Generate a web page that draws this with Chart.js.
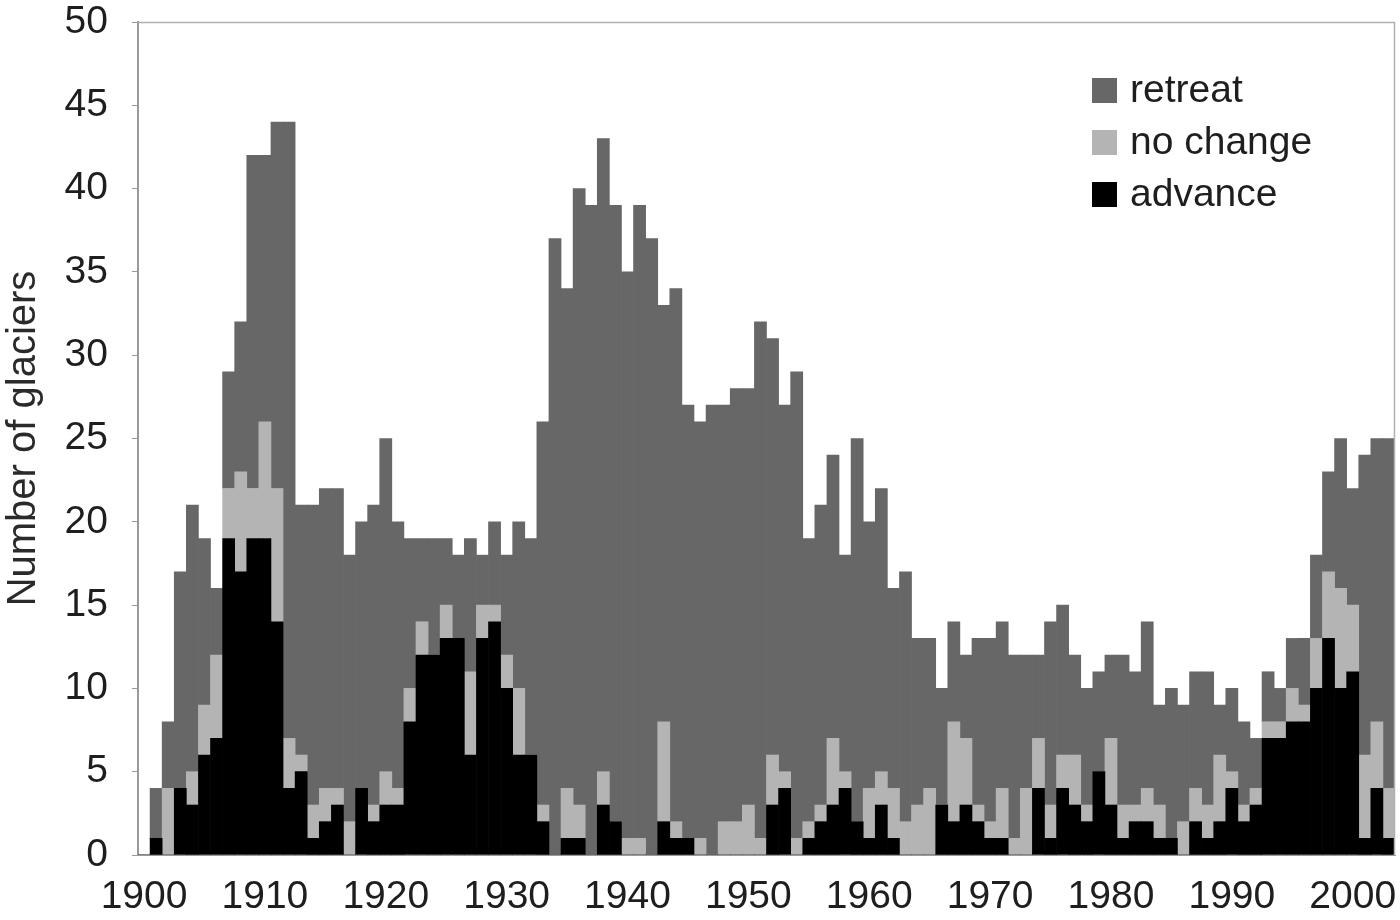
<!DOCTYPE html>
<html>
<head>
<meta charset="utf-8">
<script src="https://cdn.jsdelivr.net/npm/chart.js@4.4.1/dist/chart.umd.min.js"></script>
<style>
  html, body { margin: 0; padding: 0; background: #fff; }
  #wrap { width: 1400px; height: 920px; }
</style>
</head>
<body>
<div id="wrap"><canvas id="chart" width="1400" height="920"></canvas></div>
<script>
// years 1900 - 2003
const years = [
  1900, 1901, 1902, 1903, 1904, 1905, 1906, 1907, 1908, 1909,
  1910, 1911, 1912, 1913, 1914, 1915, 1916, 1917, 1918, 1919,
  1920, 1921, 1922, 1923, 1924, 1925, 1926, 1927, 1928, 1929,
  1930, 1931, 1932, 1933, 1934, 1935, 1936, 1937, 1938, 1939,
  1940, 1941, 1942, 1943, 1944, 1945, 1946, 1947, 1948, 1949,
  1950, 1951, 1952, 1953, 1954, 1955, 1956, 1957, 1958, 1959,
  1960, 1961, 1962, 1963, 1964, 1965, 1966, 1967, 1968, 1969,
  1970, 1971, 1972, 1973, 1974, 1975, 1976, 1977, 1978, 1979,
  1980, 1981, 1982, 1983, 1984, 1985, 1986, 1987, 1988, 1989,
  1990, 1991, 1992, 1993, 1994, 1995, 1996, 1997, 1998, 1999,
  2000, 2001, 2002, 2003
];

const advance = [
  0, 1, 0, 4, 3, 6, 7, 19, 17, 19,
  19, 14, 4, 5, 1, 2, 3, 0, 4, 2,
  3, 3, 8, 12, 12, 13, 13, 6, 13, 14,
  10, 6, 6, 2, 0, 1, 1, 0, 3, 2,
  0, 0, 0, 2, 1, 1, 0, 0, 0, 0,
  0, 0, 3, 4, 0, 1, 2, 3, 4, 2,
  1, 3, 1, 0, 0, 0, 3, 2, 3, 2,
  1, 1, 0, 0, 4, 1, 4, 3, 2, 5,
  3, 1, 2, 2, 1, 1, 0, 2, 1, 2,
  4, 2, 3, 7, 7, 8, 8, 10, 13, 10,
  11, 1, 4, 1
];

const noChange = [
  0, 0, 4, 0, 2, 3, 5, 3, 6, 3,
  7, 8, 3, 1, 2, 2, 1, 2, 0, 1,
  2, 1, 2, 2, 0, 2, 0, 5, 2, 1,
  2, 4, 0, 1, 0, 3, 2, 0, 2, 0,
  1, 1, 0, 6, 1, 0, 1, 0, 2, 2,
  3, 1, 3, 1, 1, 1, 1, 4, 1, 0,
  3, 2, 3, 2, 3, 4, 0, 6, 4, 1,
  1, 3, 1, 4, 3, 2, 2, 3, 1, 0,
  4, 2, 1, 2, 2, 0, 2, 2, 2, 4,
  1, 1, 1, 1, 1, 2, 1, 3, 4, 6,
  4, 5, 4, 3
];

const retreat = [
  0, 3, 4, 13, 16, 10, 4, 7, 9, 20,
  16, 22, 37, 15, 18, 18, 18, 16, 16, 18,
  20, 16, 9, 5, 7, 4, 5, 8, 3, 5,
  6, 10, 13, 23, 37, 30, 37, 39, 38, 37,
  34, 38, 37, 25, 32, 26, 25, 27, 25, 26,
  25, 31, 25, 22, 28, 17, 18, 17, 13, 23,
  16, 17, 12, 15, 10, 9, 7, 6, 5, 10,
  11, 10, 11, 8, 5, 11, 9, 6, 7, 6,
  5, 9, 8, 10, 6, 9, 7, 7, 8, 3,
  5, 5, 3, 3, 2, 3, 4, 5, 6, 9,
  7, 18, 17, 21
];

const xTickLabels = ['1900', '1910', '1920', '1930', '1940', '1950', '1960', '1970', '1980', '1990', '2000'];
const yTicks = [0, 5, 10, 15, 20, 25, 30, 35, 40, 45, 50];

const FONT = "'Liberation Sans', Arial, sans-serif";

// box around plot area + legend inside it
const frame = {
  id: 'frame',
  afterDraw(chart) {
    const { ctx, chartArea: a } = chart;
    ctx.save();
    ctx.strokeStyle = '#b0b0b0';
    ctx.lineWidth = 1.5;
    ctx.beginPath();
    ctx.moveTo(a.left, a.top + 0.5);
    ctx.lineTo(a.right - 0.5, a.top + 0.5);
    ctx.lineTo(a.right - 0.5, a.bottom);
    ctx.stroke();

    // legend, top item = top of stack
    const items = chart.data.datasets.slice().reverse();
    ctx.font = '39px ' + FONT;
    ctx.textBaseline = 'middle';
    items.forEach((ds, i) => {
      const cy = 90 + i * 52;
      ctx.fillStyle = ds.backgroundColor;
      ctx.fillRect(1092, cy - 12, 25, 25);
      ctx.fillStyle = '#1e1e1e';
      ctx.fillText(ds.label, 1130, cy + 1);
    });
    ctx.restore();
  }
};

new Chart(document.getElementById('chart'), {
  type: 'bar',
  data: {
    labels: years,
    datasets: [
      { label: 'advance', data: advance, backgroundColor: '#000000' },
      { label: 'no change', data: noChange, backgroundColor: '#b4b4b4' },
      { label: 'retreat', data: retreat, backgroundColor: '#676767' }
    ]
  },
  options: {
    responsive: false,
    animation: false,
    barPercentage: 1,
    categoryPercentage: 1,
    layout: { padding: { top: 22, right: 5, left: 0, bottom: 0 } },
    plugins: {
      legend: { display: false },
      tooltip: { enabled: false }
    },
    scales: {
      x: {
        stacked: true,
        grid: { display: false },
        border: { display: true, color: '#9a9a9a', width: 1 },
        ticks: {
          autoSkip: false,
          maxRotation: 0,
          padding: 11,
          color: '#1e1e1e',
          font: { family: FONT, size: 39 },
          callback(value) {
            const lbl = String(this.getLabelForValue(value));
            return xTickLabels.includes(lbl) ? lbl : '';
          }
        },
        afterFit(scale) {
          scale.height = 65;
          scale.paddingLeft = 0;
          scale.paddingRight = 0;
        }
      },
      y: {
        stacked: true,
        min: 0,
        max: 50,
        afterBuildTicks(scale) { scale.ticks = yTicks.map(v => ({ value: v })); },
        grid: { display: true, drawOnChartArea: false, drawTicks: true, tickLength: 6, color: '#9a9a9a' },
        border: { display: true, color: '#9a9a9a', width: 2 },
        ticks: {
          padding: 24,
          color: '#1e1e1e',
          font: { family: FONT, size: 39 }
        },
        title: {
          display: true,
          text: 'Number of glaciers',
          color: '#2a2a2a',
          font: { family: FONT, size: 40 },
          padding: { top: 0, bottom: 0 }
        },
        afterFit(scale) {
          scale.width = 138;
          scale.paddingTop = 0;
          scale.paddingBottom = 0;
        }
      }
    }
  },
  plugins: [frame]
});
</script>
</body>
</html>
